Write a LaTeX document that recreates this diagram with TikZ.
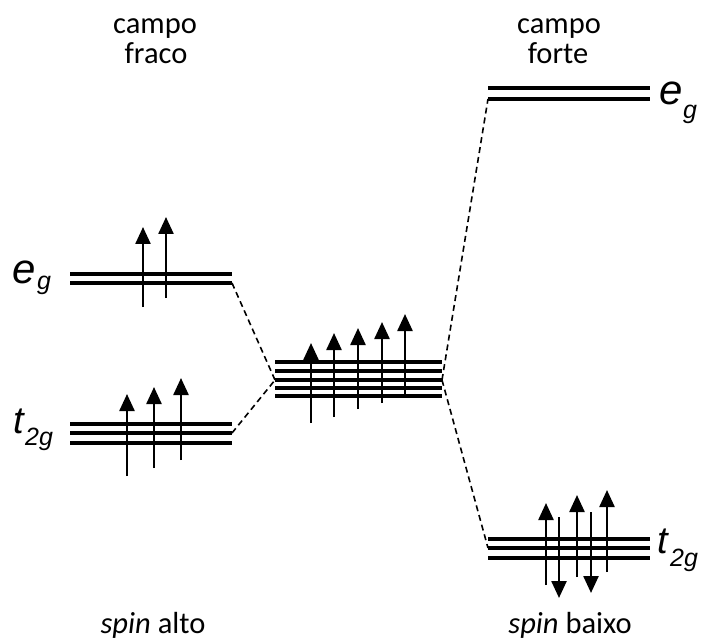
\documentclass[tikz,border=0pt]{standalone}
\usepackage{fontspec}
\setmainfont{Carlito}
\newfontfamily\arialf{Liberation Sans}
\usetikzlibrary{arrows.meta}
\begin{document}
\begin{tikzpicture}[x=1pt,y=-1pt,
  level/.style={line width=3.2pt},
  link/.style={line width=1.6pt,dash pattern=on 6pt off 4pt},
  elec/.style={line width=2.4pt,-{Triangle[width=15pt,length=17pt]}},
  lbl/.style={inner sep=0pt,anchor=base west,font=\arialf\itshape\fontsize{42}{44}\selectfont},
  lblt/.style={inner sep=0pt,anchor=base west,font=\arialf\itshape\fontsize{38}{40}\selectfont},
  sub/.style={inner sep=0pt,anchor=base west,font=\arialf\itshape\fontsize{25}{27}\selectfont},
  txt/.style={inner sep=0pt,anchor=base,font=\fontsize{30.5}{32}\selectfont}]
\useasboundingbox (0,0) rectangle (706,644);
% left e_g
\foreach \y in {274,283} \draw[level] (70,\y) -- (232,\y);
\coordinate (LE) at (232,283);
% left t2g
\foreach \y in {424,433,443} \draw[level] (70,\y) -- (232,\y);
\coordinate (LT) at (232,433);
% centre
\foreach \y in {362,371,380,388,396} \draw[level] (275,\y) -- (442,\y);
\coordinate (CL) at (275,380);
\coordinate (CR) at (442,380);
% right e_g
\foreach \y in {88,99} \draw[level] (488,\y) -- (650,\y);
\coordinate (RE) at (488,99);
% right t2g
\foreach \y in {539,548,558} \draw[level] (488,\y) -- (650,\y);
\coordinate (RT) at (488,548);
% connectors
\draw[link] (LE) -- (CL);
\draw[link] (LT) -- (CL);
\draw[link] (CR) -- (RE);
\draw[link] (CR) -- (RT);
% electrons
\draw[elec] (143,307) -- (143,227);
\draw[elec] (166,298) -- (166,217);
\draw[elec] (127,476) -- (127,394);
\draw[elec] (154,468) -- (154,387);
\draw[elec] (181,460) -- (181,378);
\draw[elec] (311,423) -- (311,343);
\draw[elec] (334,417) -- (334,333);
\draw[elec] (358,409) -- (358,328);
\draw[elec] (382,403) -- (382,322);
\draw[elec] (405,395) -- (405,314);
\draw[elec] (546,585) -- (546,503);
\draw[elec] (559,517) -- (559,598);
\draw[elec] (577,577) -- (577,495);
\draw[elec] (591,512) -- (591,593);
\draw[elec] (607,572) -- (607,490);
% labels
\node[lbl] (le) at (12,283) {e};
\node[sub] (leg) at (37,289) {g};
\node[lblt] (lt) at (13,433) {t};
\node[sub] (ltg) at (25,445) {2g};
\node[lbl] (re) at (659,105) {e};
\node[sub] (reg) at (683,119) {g};
\node[lblt] (rt) at (657,553) {t};
\node[sub] (rtg) at (670,566) {2g};
\node[txt] (c1) at (155,34) {campo};
\node[txt] (c2) at (156,64) {fraco};
\node[txt] (c3) at (559,34) {campo};
\node[txt] (c4) at (558,64) {forte};
\node[txt] (s1) at (153,633) {\textit{spin} alto};
\node[txt] (s2) at (570,633) {\textit{spin} baixo};
\end{tikzpicture}
\end{document}
